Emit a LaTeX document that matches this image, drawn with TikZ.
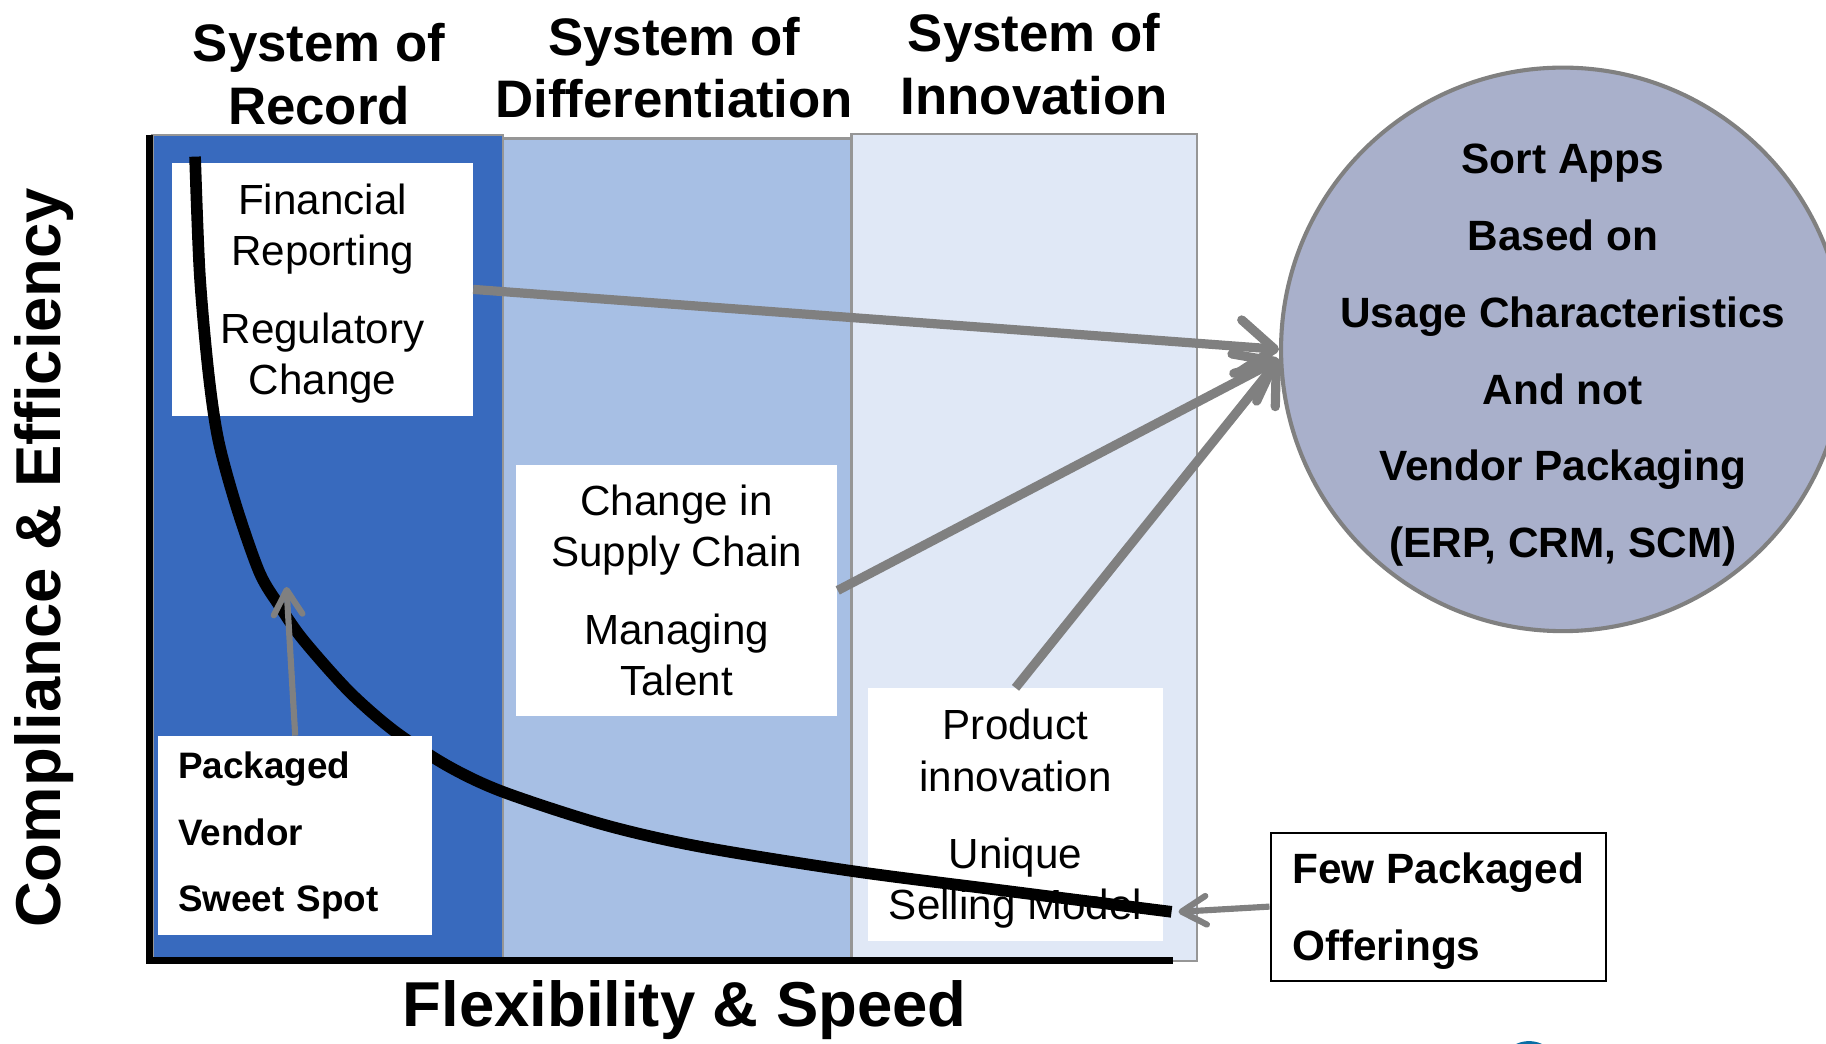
\documentclass[tikz,border=0pt]{standalone}
\usepackage{fontspec}
\setmainfont{Liberation Sans}
\usetikzlibrary{arrows.meta}

\definecolor{recordblue}{RGB}{56,106,190}
\definecolor{diffblue}{RGB}{167,191,228}
\definecolor{innovblue}{RGB}{224,232,246}
\definecolor{sortfill}{RGB}{169,176,203}
\definecolor{arrowgray}{RGB}{128,128,128}
\definecolor{framegray}{RGB}{150,150,150}
\definecolor{logoteal}{RGB}{10,110,165}

\tikzset{
  syshead/.style={align=center, font=\fontsize{25.8}{30.7}\selectfont\bfseries},
  axislabel/.style={font=\fontsize{31}{36}\selectfont\bfseries},
  usecase/.style={fill=white, inner sep=0pt, text depth=0pt, align=center, font=\fontsize{20.6}{25}\selectfont},
  notebox/.style={fill=white, inner ysep=0pt, align=left, font=\fontsize{18}{32.4}\selectfont\bfseries},
  sysband/.style={draw=framegray, line width=1.2pt},
  bigarrow/.style={draw=arrowgray, line width=4.5pt, -{Straight Barb[length=17pt,width=26pt,round]}},
  smallarrow/.style={draw=arrowgray, line width=3pt, -{Straight Barb[length=12pt,width=14pt,round]}},
}

\begin{document}
\begin{tikzpicture}[x=0.02cm, y=-0.02cm]

%% Parameters
%% band limits, can be modified
\def\bandBot{825}
\def\axisX{128}
\useasboundingbox (0,0) rectangle (1568,896);
\clip (0,0) rectangle (1568,896);

%% *** the three system bands ***
\filldraw[sysband, fill=recordblue] (131,116) rectangle (432,\bandBot);
\filldraw[sysband, fill=diffblue] (432,119) rectangle (731,\bandBot);
\filldraw[sysband, fill=innovblue] (731,115) rectangle (1028,\bandBot);

\node[syshead] (recordtitle) at (274,64) {System of\\Record};
\node[syshead] (difftitle) at (579,58) {System of\\Differentiation};
\node[syshead] (innovtitle) at (888,55) {System of\\Innovation};

%% *** use cases in each band ***
\node[usecase, minimum width=5.16cm, minimum height=4.34cm] (financial) at (277,248.5)
      {Financial\\Reporting\\[13pt]Regulatory\\Change};
\node[usecase, minimum width=5.52cm, minimum height=4.32cm] (supply) at (581,507)
      {Change in\\Supply Chain\\[13pt]Managing\\Talent};
\node[usecase, minimum width=5.08cm, minimum height=4.34cm] (product) at (872,699.5)
      {Product\\innovation\\[13pt]Unique\\Selling Model};

%% *** trade-off curve ***
\draw[line width=5.7pt] plot[smooth] coordinates {(167.5,134.5) (171.5,235) (179,320) (187.5,378)
      (203,435) (223,492) (240.5,521) (260.5,549.6) (300,594) (339,628) (385,658) (432,680)
      (518,708) (601,727) (732,748) (864,765) (1006,783)};
\coordinate (sweetspot) at (246,504);
\coordinate (curveend) at (1012,783);

%% axes
\coordinate (origin) at (\axisX,\bandBot);
\coordinate (ytop) at (\axisX,116);
\coordinate (xend) at (1007,\bandBot);
\draw[line width=3.4pt] (ytop) -- (origin) -- (xend);

\node[axislabel, rotate=90] (ylabel) at (38,479) {Compliance \& Efficiency};
\node[axislabel] (xlabel) at (588,867) {Flexibility \& Speed};

\node[notebox, minimum width=4.70cm, minimum height=3.42cm, inner xsep=0.34cm, text width=4.02cm]
      (packaged) at (253.5,717.5) {Packaged\\Vendor\\Sweet Spot};

%% *** target: sort apps ***
\node[circle, fill=sortfill, draw=arrowgray, line width=2pt, minimum size=9.68cm] (sortapps) at (1342,300) {};
\node[align=center, yshift=-0.1cm, font=\fontsize{20.7}{37.6}\selectfont\bfseries] (sorttext) at (sortapps)
      {Sort Apps\\Based on\\Usage Characteristics\\And not\\Vendor Packaging\\(ERP, CRM, SCM)};

\node[draw=black, line width=1pt, fill=white, inner sep=0pt, minimum width=5.76cm,
      minimum height=2.54cm, text depth=0pt, align=left, font=\fontsize{20.7}{37.6}\selectfont\bfseries]
      (fewpkg) at (1235,778.5) {Few Packaged\\Offerings};

%% arrows
\draw[bigarrow] (financial.east) -- (sortapps.west);
\draw[bigarrow] (supply.east) -- (sortapps.182);
\draw[bigarrow] (product.north) -- (sortapps.182);
\draw[smallarrow] (packaged.north) -- (sweetspot);
\draw[smallarrow] (fewpkg.west) -- (curveend);

% logo edge
\fill[logoteal] (1313,920) circle (26);

\end{tikzpicture}
\end{document}
